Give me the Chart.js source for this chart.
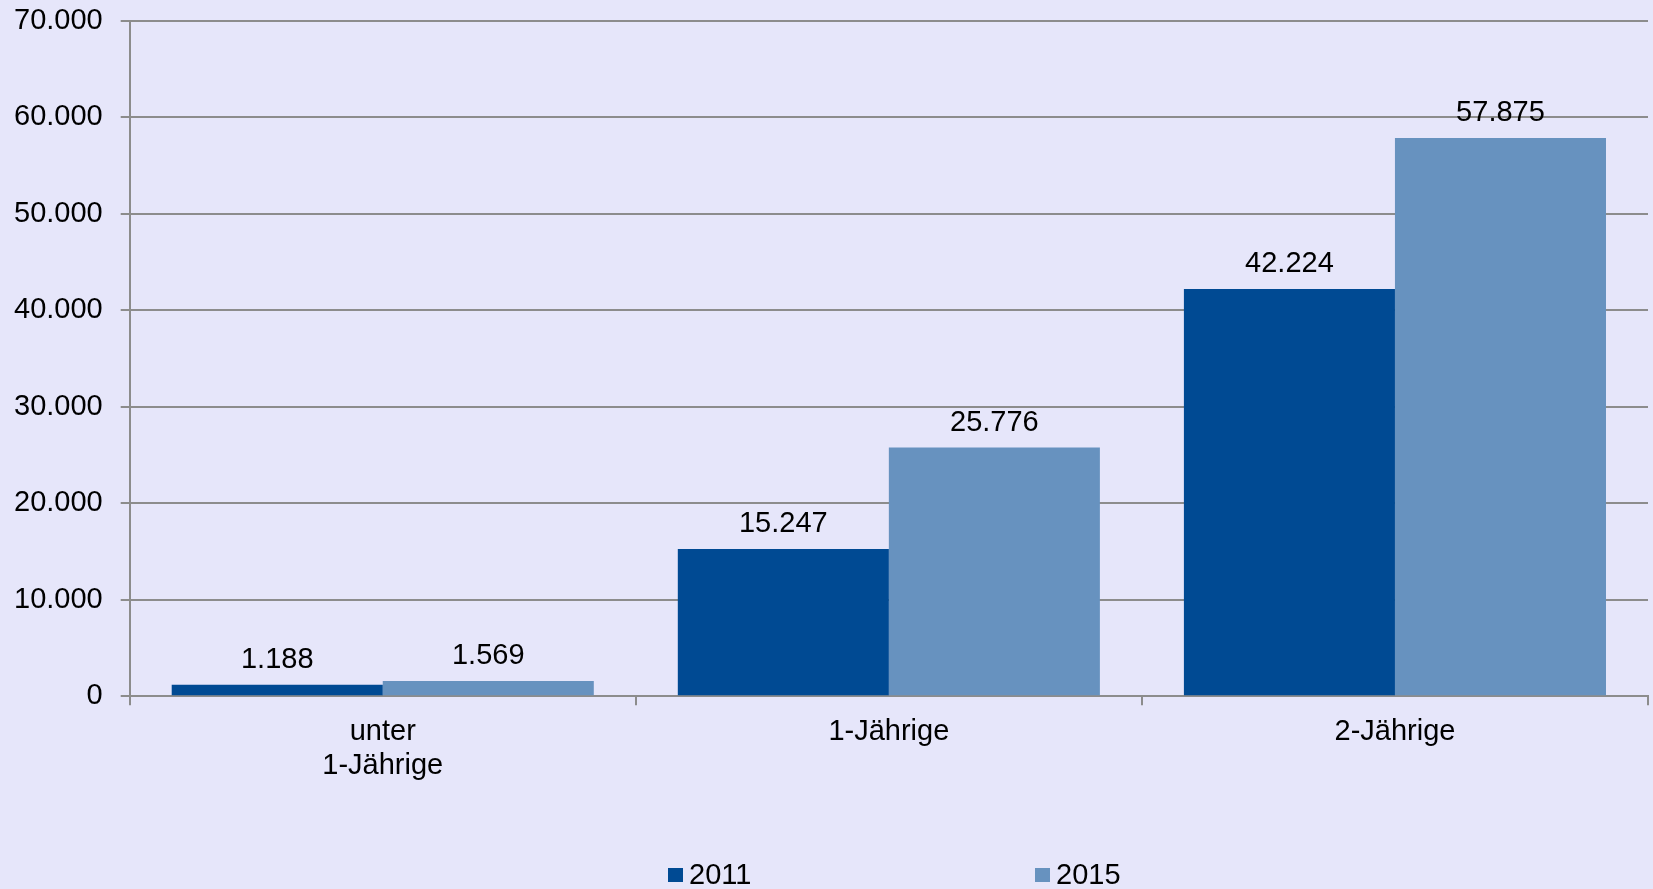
<!DOCTYPE html>
<html>
<head>
<meta charset="utf-8">
<script src="https://cdn.jsdelivr.net/npm/chart.js@4.4.1/dist/chart.umd.min.js"></script>
<style>
  html, body { margin: 0; padding: 0; background: #E6E6FA; }
  #wrap { width: 1653px; height: 889px; }
</style>
</head>
<body>
<div id="wrap"><canvas id="bar_chart"></canvas></div>
<script>
const categories = [['unter', '1-Jährige'], '1-Jährige', '2-Jährige'];
const years = ['2011', '2015'];
const values2011 = [1188, 15247, 42224];
const values2015 = [1569, 25776, 57875];
const yTicks = [0, 10000, 20000, 30000, 40000, 50000, 60000, 70000];

const FONT = '"Liberation Sans", Arial, sans-serif';
const SIZE = 29;
const GRID = '#8C8C8C';

// german thousands separator: 57875 -> 57.875
function fmt(v) {
  return String(v).replace(/\B(?=(\d{3})+(?!\d))/g, '.');
}

// value labels above each bar
const barValues = {
  id: 'barValues',
  afterDatasetsDraw(chart) {
    const ctx = chart.ctx;
    ctx.save();
    ctx.font = SIZE + 'px ' + FONT;
    ctx.fillStyle = '#000';
    ctx.textAlign = 'center';
    ctx.textBaseline = 'alphabetic';
    chart.data.datasets.forEach((ds, i) => {
      chart.getDatasetMeta(i).data.forEach((bar, j) => {
        ctx.fillText(fmt(ds.data[j]), bar.x, bar.y - 17);
      });
    });
    ctx.restore();
  }
};

// excel style legend: two items spread out at the bottom
const legendRow = {
  id: 'legendRow',
  afterDraw(chart, args, opts) {
    const ctx = chart.ctx;
    ctx.save();
    ctx.font = SIZE + 'px ' + FONT;
    ctx.textBaseline = 'middle';
    chart.data.datasets.forEach((ds, i) => {
      const x = opts.left + i * opts.step;
      ctx.fillStyle = ds.backgroundColor;
      ctx.fillRect(x, opts.y - 7, 15, 14);
      ctx.fillStyle = '#000';
      ctx.fillText(ds.label, x + 21, opts.y + 1);
    });
    ctx.restore();
  }
};

const config = {
  type: 'bar',
  data: {
    labels: categories,
    datasets: [
      {
        label: years[0],
        data: values2011,
        backgroundColor: '#004A93',
        categoryPercentage: 0.834,
        barPercentage: 1
      },
      {
        label: years[1],
        data: values2015,
        backgroundColor: '#6792BF',
        categoryPercentage: 0.834,
        barPercentage: 1
      }
    ]
  },
  options: {
    responsive: true,
    maintainAspectRatio: false,
    animation: false,
    layout: {
      padding: { left: -4, right: 5, top: 0, bottom: 96 }
    },
    plugins: {
      legend: { display: false },
      tooltip: { enabled: false },
      legendRow: { left: 668, step: 367, y: 875 }
    },
    scales: {
      x: {
        grid: {
          offset: true,
          drawOnChartArea: false,
          drawTicks: true,
          tickLength: 9,
          color: GRID,
          lineWidth: 2
        },
        border: { color: GRID, width: 2 },
        ticks: {
          color: '#000',
          padding: 10,
          maxRotation: 0,
          font: { family: FONT, size: SIZE, lineHeight: 1.17 }
        }
      },
      y: {
        min: 0,
        max: 70000,
        afterBuildTicks(axis) {
          axis.ticks = yTicks.map(v => ({ value: v }));
        },
        afterFit(axis) {
          axis.paddingTop = 21;
        },
        grid: {
          color: GRID,
          lineWidth: 2,
          tickLength: 9
        },
        border: { color: GRID, width: 2 },
        ticks: {
          color: '#000',
          padding: 18,
          font: { family: FONT, size: SIZE, lineHeight: 1.17 },
          callback: v => fmt(v)
        }
      }
    }
  },
  plugins: [barValues, legendRow]
};

document.addEventListener('DOMContentLoaded', () => {
  new Chart(document.getElementById('bar_chart').getContext('2d'), config);
});
</script>
</body>
</html>
